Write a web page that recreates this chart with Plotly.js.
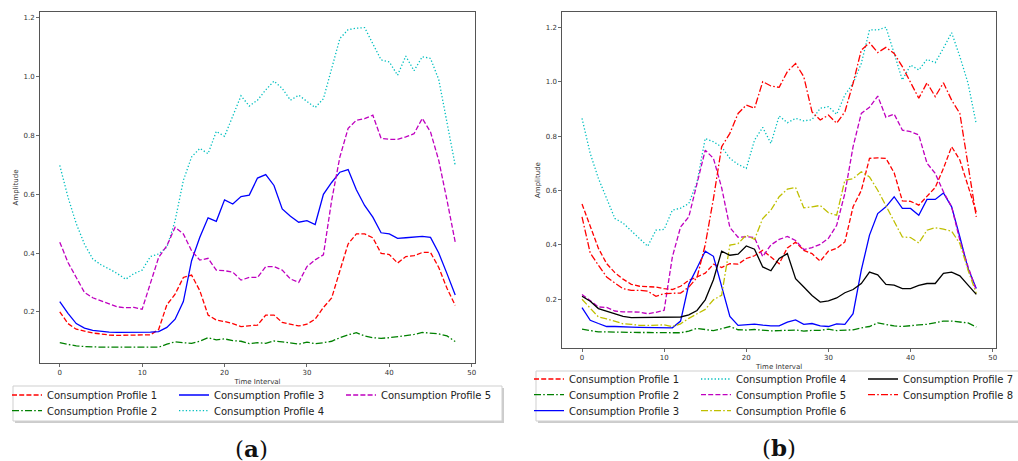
<!DOCTYPE html>
<html>
<head>
<meta charset="utf-8">
<script src="https://cdn.plot.ly/plotly-3.0.1.min.js"></script>
<style>
html,body{margin:0;padding:0;background:#fff;}
#chart{width:1018px;height:461px;}
</style>
</head>
<body>
<div id="chart"></div>
<script>
// ---- data ----
const timeInterval = [0,1,2,3,4,5,6,7,8,9,10,11,12,13,14,15,16,17,18,19,20,21,22,23,24,25,26,27,28,29,30,31,32,33,34,35,36,37,38,39,40,41,42,43,44,45,46,47,48];
const xTicks = [0,10,20,30,40,50];
const yTicks = [0.2,0.4,0.6,0.8,1.0,1.2];

// panel (a)
const aProfile1 = [0.200,0.160,0.141,0.135,0.128,0.125,0.121,0.120,0.120,0.121,0.121,0.122,0.140,0.224,0.260,0.317,0.325,0.272,0.189,0.172,0.167,0.160,0.150,0.153,0.155,0.189,0.189,0.164,0.158,0.152,0.158,0.175,0.215,0.247,0.340,0.431,0.465,0.465,0.452,0.399,0.395,0.366,0.388,0.391,0.402,0.402,0.351,0.280,0.222];
const aProfile2 = [0.095,0.090,0.084,0.082,0.080,0.080,0.080,0.080,0.079,0.079,0.080,0.080,0.080,0.090,0.098,0.095,0.093,0.100,0.112,0.105,0.108,0.102,0.100,0.092,0.095,0.093,0.101,0.098,0.095,0.090,0.097,0.092,0.095,0.100,0.112,0.122,0.129,0.118,0.112,0.110,0.112,0.115,0.118,0.123,0.130,0.128,0.125,0.118,0.099];
const aProfile3 = [0.235,0.195,0.160,0.145,0.137,0.133,0.131,0.130,0.130,0.129,0.131,0.131,0.133,0.147,0.175,0.235,0.374,0.454,0.520,0.508,0.581,0.567,0.592,0.597,0.655,0.667,0.630,0.550,0.525,0.505,0.510,0.497,0.600,0.640,0.675,0.684,0.615,0.562,0.522,0.469,0.465,0.450,0.452,0.455,0.457,0.453,0.400,0.330,0.257];
const aProfile4 = [0.698,0.590,0.500,0.430,0.380,0.360,0.346,0.330,0.311,0.330,0.342,0.388,0.397,0.420,0.510,0.647,0.727,0.756,0.738,0.814,0.797,0.863,0.935,0.900,0.920,0.955,0.985,0.960,0.920,0.937,0.915,0.895,0.925,1.025,1.130,1.160,1.165,1.167,1.110,1.057,1.050,1.005,1.070,1.020,1.068,1.062,0.990,0.850,0.698];
const aProfile5 = [0.437,0.368,0.317,0.266,0.248,0.238,0.228,0.217,0.214,0.215,0.209,0.294,0.385,0.425,0.488,0.465,0.408,0.376,0.382,0.342,0.340,0.335,0.308,0.317,0.317,0.354,0.354,0.342,0.312,0.300,0.354,0.377,0.394,0.579,0.727,0.824,0.852,0.857,0.869,0.790,0.787,0.787,0.795,0.806,0.858,0.812,0.715,0.580,0.437];

// panel (b)
const bProfile1 = [0.550,0.466,0.387,0.331,0.298,0.274,0.255,0.248,0.247,0.245,0.239,0.236,0.248,0.270,0.282,0.296,0.329,0.317,0.331,0.329,0.350,0.360,0.380,0.356,0.331,0.389,0.410,0.380,0.368,0.340,0.377,0.387,0.411,0.540,0.600,0.718,0.720,0.718,0.665,0.562,0.560,0.546,0.579,0.611,0.681,0.761,0.712,0.613,0.520];
const bProfile2 = [0.090,0.085,0.080,0.080,0.079,0.078,0.078,0.078,0.078,0.077,0.078,0.077,0.077,0.083,0.093,0.090,0.085,0.092,0.100,0.088,0.087,0.089,0.086,0.084,0.085,0.087,0.087,0.083,0.086,0.086,0.090,0.085,0.086,0.088,0.095,0.100,0.113,0.107,0.102,0.100,0.104,0.106,0.108,0.114,0.120,0.120,0.117,0.113,0.098];
const bProfile3 = [0.169,0.123,0.111,0.100,0.100,0.100,0.098,0.097,0.096,0.095,0.095,0.095,0.120,0.255,0.315,0.377,0.358,0.246,0.137,0.104,0.107,0.109,0.105,0.102,0.102,0.116,0.124,0.108,0.111,0.102,0.100,0.110,0.108,0.147,0.307,0.436,0.515,0.540,0.577,0.534,0.534,0.509,0.567,0.567,0.591,0.540,0.429,0.313,0.240];
const bProfile4 = [0.865,0.736,0.644,0.570,0.497,0.480,0.450,0.423,0.395,0.454,0.457,0.528,0.535,0.552,0.630,0.791,0.779,0.760,0.718,0.696,0.681,0.785,0.832,0.773,0.874,0.849,0.865,0.856,0.860,0.902,0.908,0.880,0.951,0.994,1.067,1.190,1.190,1.200,1.104,1.006,1.061,1.043,1.082,1.070,1.123,1.180,1.092,0.994,0.844];
const bProfile5 = [0.218,0.194,0.172,0.170,0.157,0.154,0.154,0.153,0.147,0.152,0.160,0.356,0.466,0.503,0.625,0.748,0.718,0.610,0.464,0.428,0.430,0.427,0.357,0.400,0.420,0.431,0.416,0.383,0.390,0.402,0.424,0.472,0.589,0.761,0.883,0.906,0.947,0.869,0.881,0.822,0.816,0.804,0.700,0.663,0.595,0.540,0.417,0.320,0.233];
const bProfile6 = [0.200,0.167,0.135,0.128,0.118,0.110,0.108,0.104,0.104,0.104,0.106,0.100,0.110,0.130,0.147,0.163,0.198,0.215,0.399,0.405,0.436,0.420,0.497,0.528,0.577,0.605,0.611,0.536,0.540,0.545,0.518,0.509,0.638,0.643,0.669,0.650,0.601,0.542,0.484,0.429,0.427,0.407,0.454,0.463,0.458,0.450,0.405,0.307,0.221];
const bProfile7 = [0.211,0.193,0.166,0.157,0.148,0.137,0.133,0.133,0.133,0.134,0.133,0.134,0.135,0.143,0.159,0.198,0.272,0.377,0.362,0.366,0.396,0.384,0.319,0.305,0.350,0.368,0.276,0.245,0.214,0.190,0.194,0.205,0.224,0.236,0.258,0.300,0.290,0.255,0.252,0.239,0.239,0.251,0.258,0.258,0.295,0.300,0.286,0.252,0.218];
const bProfile8 = [0.503,0.370,0.325,0.282,0.260,0.239,0.233,0.233,0.230,0.211,0.221,0.222,0.223,0.245,0.280,0.400,0.570,0.761,0.810,0.883,0.914,0.902,1.000,0.984,0.979,1.037,1.067,1.018,0.889,0.859,0.877,0.847,0.889,0.994,1.116,1.143,1.107,1.126,1.104,1.055,0.994,0.939,0.996,0.945,0.996,0.932,0.883,0.686,0.503];

const profileNames = ["Consumption Profile 1","Consumption Profile 2","Consumption Profile 3","Consumption Profile 4","Consumption Profile 5","Consumption Profile 6","Consumption Profile 7","Consumption Profile 8"];

// ---- styles ----
const DASH = '5px,2.2px', DASHDOT = '7px,2.2px,1.6px,2.2px', DOT = '1.3px,2.1px';
const LW = 1.3;
const W = 1018, H = 461;
const px = v => v / W;          // horizontal pixel -> paper
const py = v => 1 - v / H;      // vertical pixel (from top) -> paper

function tr(x, y, name, color, dash, xa, ya, legend, rank, lw) {
  return {
    type: 'scatter', mode: 'lines', x: x, y: y, name: name,
    line: {color: color, dash: dash, width: LW},
    xaxis: xa, yaxis: ya, legend: legend, legendrank: rank,
    legendwidth: lw, hoverinfo: 'skip'
  };
}

const EW = 122;
const traces = [
  // panel (a)
  tr(timeInterval, aProfile1, profileNames[0], '#ff0000', DASH,    'x',  'y',  'legend',  1, EW),
  tr(timeInterval, aProfile2, profileNames[1], '#008000', DASHDOT, 'x',  'y',  'legend2', 1, EW),
  tr(timeInterval, aProfile3, profileNames[2], '#0000ff', 'solid', 'x',  'y',  'legend',  2, EW),
  tr(timeInterval, aProfile4, profileNames[3], '#00bfbf', DOT,     'x',  'y',  'legend2', 2, EW),
  tr(timeInterval, aProfile5, profileNames[4], '#bf00bf', DASH,    'x',  'y',  'legend',  3, EW),
  // panel (b)
  tr(timeInterval, bProfile1, profileNames[0], '#ff0000', DASH,    'x2', 'y2', 'legend3', 1, EW),
  tr(timeInterval, bProfile2, profileNames[1], '#008000', DASHDOT, 'x2', 'y2', 'legend4', 1, EW),
  tr(timeInterval, bProfile3, profileNames[2], '#0000ff', 'solid', 'x2', 'y2', 'legend5', 1, EW),
  tr(timeInterval, bProfile4, profileNames[3], '#00bfbf', DOT,     'x2', 'y2', 'legend3', 2, EW),
  tr(timeInterval, bProfile5, profileNames[4], '#bf00bf', DASH,    'x2', 'y2', 'legend4', 2, EW),
  tr(timeInterval, bProfile6, profileNames[5], '#bfbf00', DASHDOT, 'x2', 'y2', 'legend5', 2, EW),
  tr(timeInterval, bProfile7, profileNames[6], '#000000', 'solid', 'x2', 'y2', 'legend3', 3, EW),
  tr(timeInterval, bProfile8, profileNames[7], '#ff0000', DASHDOT, 'x2', 'y2', 'legend4', 3, EW)
];

const tickFont = {family: 'DejaVu Sans', size: 7, color: '#333'};
function xax(domain, anchor) {
  return {
    domain: domain, anchor: anchor, range: [-2.4, 50.4], tickvals: xTicks,
    ticks: 'outside', ticklen: 3, tickwidth: 0.8, tickcolor: '#444',
    showline: true, mirror: true, linecolor: '#555', linewidth: 1,
    showgrid: false, zeroline: false, tickfont: tickFont,
    title: {text: 'Time Interval', font: tickFont, standoff: 2}
  };
}
function yax(domain, anchor, range) {
  return {
    domain: domain, anchor: anchor, range: range, tickvals: yTicks, tickformat: '.1f',
    ticks: 'outside', ticklen: 3, tickwidth: 0.8, tickcolor: '#444',
    showline: true, mirror: true, linecolor: '#555', linewidth: 1,
    showgrid: false, zeroline: false, tickfont: tickFont,
    title: {text: 'Amplitude', font: tickFont, standoff: 4}
  };
}

const legFont = {family: 'DejaVu Sans', size: 10, color: '#222'};
function leg(xPx, rowCenterPx) {
  return {
    orientation: 'h', x: px(xPx), xanchor: 'left',
    y: py(rowCenterPx - 14.5), yanchor: 'top',
    bgcolor: 'rgba(0,0,0,0)', borderwidth: 0, font: legFont,
    entrywidthmode: 'pixels', entrywidth: EW, traceorder: 'normal'
  };
}

function rect(x0, y0, x1, y1, fill, line, opacity) {
  return {type: 'rect', xref: 'paper', yref: 'paper', layer: 'above',
    x0: px(x0), x1: px(x1), y0: py(y1), y1: py(y0),
    fillcolor: fill, opacity: opacity === undefined ? 1 : opacity,
    line: line};
}

const layout = {
  width: W, height: H,
  margin: {l: 0, r: 0, t: 0, b: 0, autoexpand: false},
  paper_bgcolor: '#fff', plot_bgcolor: '#fff',
  font: {family: 'DejaVu Sans'},
  showlegend: true,
  xaxis: xax([px(40), px(475)], 'y'),
  yaxis: yax([py(363), py(12)], 'x', [0.026, 1.22]),
  xaxis2: xax([px(562.3), px(996)], 'y2'),
  yaxis2: yax([py(348), py(12)], 'x2', [0.021, 1.256]),
  legend: leg(7, 395),
  legend2: leg(7, 410.7),
  legend3: leg(529, 379),
  legend4: leg(529, 394.7),
  legend5: leg(529, 410.7),
  shapes: [
    rect(15, 388, 504, 423, '#999', {width: 0}, 0.5),
    rect(13, 386, 502, 421, '#fff', {color: '#cfcfcf', width: 1}),
    rect(538, 373, 1030, 423, '#999', {width: 0}, 0.5),
    rect(536, 371, 1028, 421, '#fff', {color: '#cfcfcf', width: 1})
  ],
  annotations: [
    {xref: 'paper', yref: 'paper', x: px(251), y: py(448), xanchor: 'center', yanchor: 'middle',
     text: '(<b>a</b>)', showarrow: false, font: {family: 'DejaVu Serif', size: 23, color: '#111'}},
    {xref: 'paper', yref: 'paper', x: px(779), y: py(447), xanchor: 'center', yanchor: 'middle',
     text: '(<b>b</b>)', showarrow: false, font: {family: 'DejaVu Serif', size: 23, color: '#111'}}
  ]
};

Plotly.newPlot('chart', traces, layout, {displayModeBar: false, staticPlot: true});
</script>
</body>
</html>
